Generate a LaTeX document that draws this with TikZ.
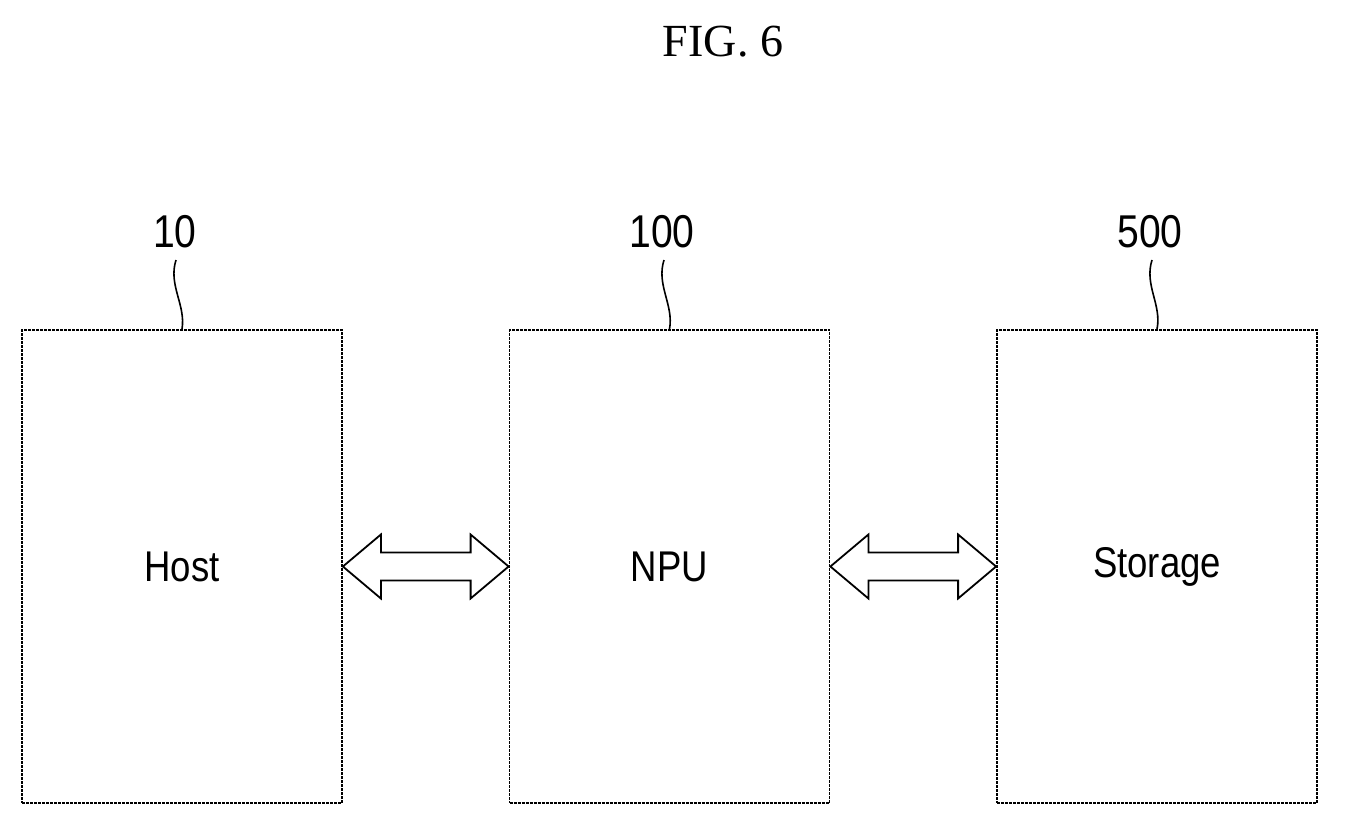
\documentclass[tikz,border=0pt]{standalone}
\usepackage{fontspec}
\setmainfont{Liberation Serif}
\setsansfont{Liberation Sans}
\usetikzlibrary{calc}
\begin{document}
\begin{tikzpicture}[x=1pt,y=-1pt,
  box/.style={draw,line width=1.8pt,dash pattern=on 3pt off 1pt,minimum width=320pt,minimum height=473pt,inner sep=0pt},
  lbl/.style={font=\sffamily\fontsize{43}{43}\selectfont,xscale=0.85},
  num/.style={font=\sffamily\fontsize{46}{46}\selectfont,xscale=0.85},
  lead/.style={line width=1.6pt}]
\useasboundingbox (0,0) rectangle (1345,827);
\node[font=\fontsize{46}{46}\selectfont] (title) at (723,42) {FIG. 6};
\node[box] (host) at (182,566.5) {};
\node[box] (npu) at (669.5,566.5) {};
\node[box] (sto) at (1157,566.5) {};
\node[lbl] at (host.center) {Host};
\node[lbl] at (npu.center) {NPU};
\node[lbl] at (sto.center) {Storage};
\node[num] (n10) at (175,232) {10};
\node[num] (n100) at (662,232) {100};
\node[num] (n500) at (1150,232) {500};
\coordinate (t10) at (host.north);
\coordinate (t100) at (npu.north);
\coordinate (t500) at (sto.north);
\draw[lead] (176,260) .. controls (168,285) and (186,305) .. (t10);
\draw[lead] (664,260) .. controls (656,285) and (674,305) .. (t100);
\draw[lead] (1152,260) .. controls (1144,285) and (1162,305) .. (t500);
\foreach \a/\b in {host/npu,npu/sto}{
  \draw[line width=1.8pt,line join=miter]
    (\a.east) -- ++(38,-32) -- ++(0,18) -- ($(\b.west)+(-38,-14)$) -- ++(0,-18) -- (\b.west)
    -- ++(-38,32) -- ++(0,-18) -- ($(\a.east)+(38,14)$) -- ++(0,18) -- cycle;
}
\end{tikzpicture}
\end{document}
